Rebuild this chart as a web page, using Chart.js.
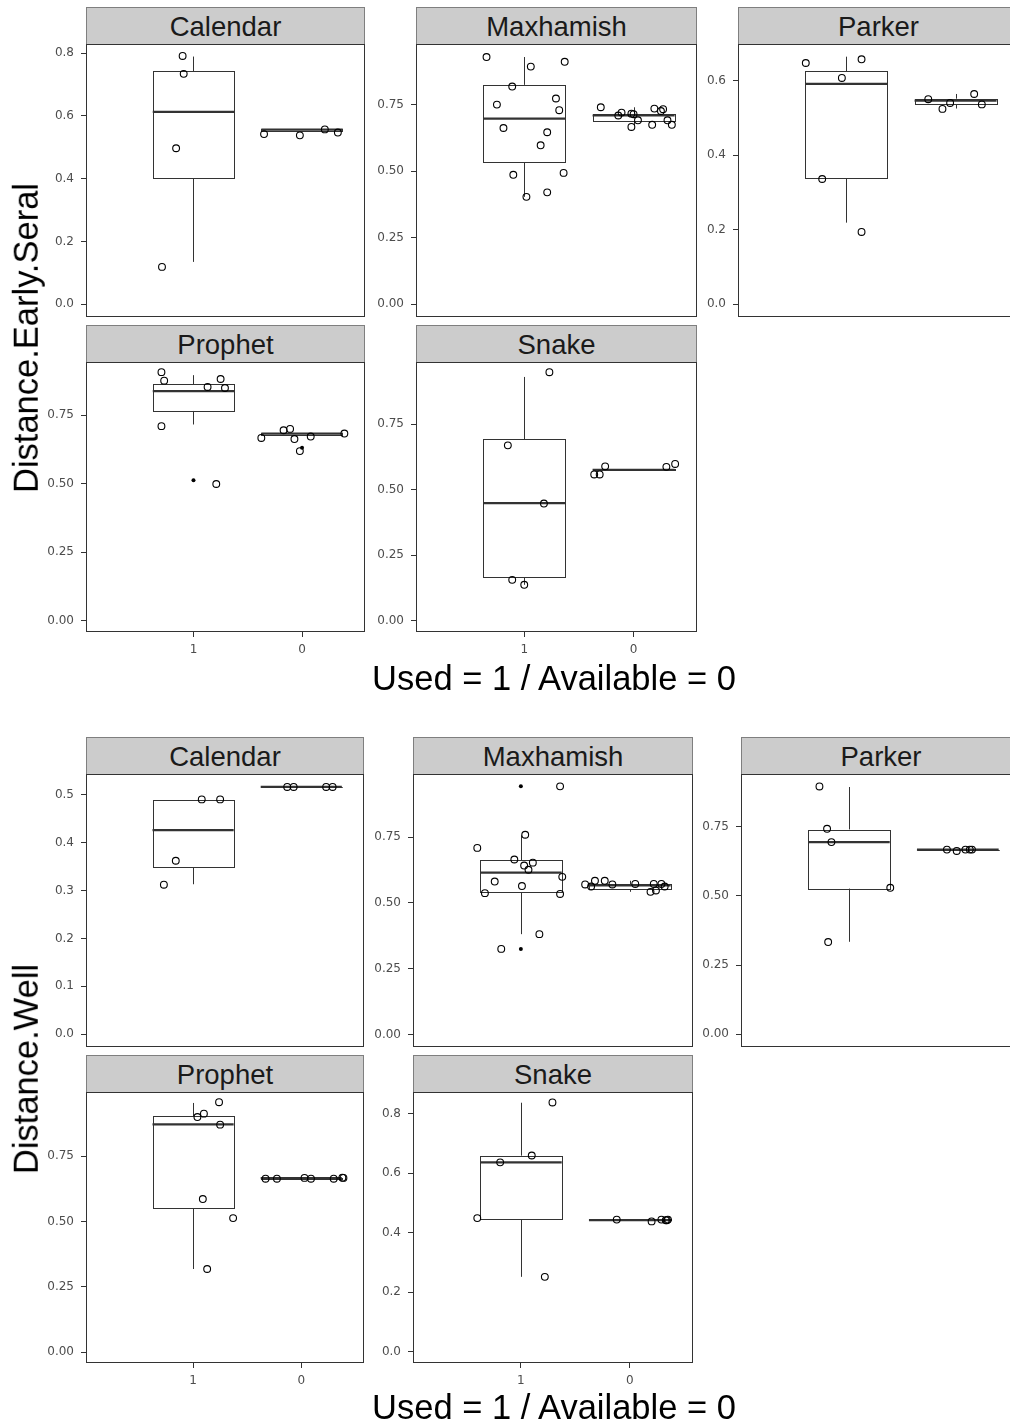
<!DOCTYPE html>
<html>
<head>
<meta charset="utf-8">
<title>Distance boxplots</title>
<script src="https://cdn.jsdelivr.net/npm/chart.js@4.4.1/dist/chart.umd.min.js"></script>
<style>
    html, body { margin: 0; padding: 0; background: #fff; }
    #page { position: relative; width: 1010px; height: 1424px; overflow: hidden; font-family: Arial, "Liberation Sans", sans-serif; }
    .strip { position: absolute; box-sizing: border-box; background: #cccccc; border: 1px solid #7f7f7f; border-bottom: none;
             text-align: center; font-size: 27.5px; line-height: 37px; color: #1a1a1a; }
    .panel { position: absolute; }
    .title { position: absolute; font-size: 34.5px; line-height: 1; white-space: nowrap; color: #000; }
    .xtitle { transform: translate(-50%, -50%); }
    .ytitle { transform: translate(-50%, -50%) rotate(-90deg); }
</style>
</head>
<body>
<div id="page"></div>
<script>
// x categories and facets
const groups = ['1', '0'];
const facets = ['Calendar', 'Maxhamish', 'Parker', 'Prophet', 'Snake'];

// ---- Distance.Early.Seral ----
// box stats: [lower whisker, q1, median, q3, upper whisker] for Used (1) and Available (0)
// points: [jittered x, y]
const esCalendarBox = [[0.135, 0.401, 0.613, 0.742, 0.789], [0.552, 0.552, 0.556, 0.558, 0.558]];
const esCalendarUsed = [[0.90, 0.791], [0.91, 0.734], [0.84, 0.497], [0.71, 0.119]];
const esCalendarAvail = [[1.65, 0.542], [1.98, 0.538], [2.21, 0.557], [2.33, 0.547]];
const esCalendarOut = [];

const esMaxhamishBox = [[0.404, 0.534, 0.698, 0.825, 0.930], [0.672, 0.688, 0.710, 0.716, 0.741]];
const esMaxhamishUsed = [[0.655, 0.930], [1.06, 0.894], [1.37, 0.912], [0.89, 0.819], [0.75, 0.751], [1.29, 0.774], [1.32, 0.730],
    [0.81, 0.663], [1.21, 0.647], [1.15, 0.598], [0.90, 0.487], [1.36, 0.494], [1.21, 0.421], [1.02, 0.404]];
const esMaxhamishAvail = [[1.70, 0.741], [1.86, 0.710], [1.89, 0.721], [1.98, 0.717], [2.00, 0.715], [1.98, 0.667], [2.04, 0.692],
    [2.17, 0.675], [2.19, 0.736], [2.25, 0.727], [2.27, 0.734], [2.31, 0.692], [2.35, 0.675]];
const esMaxhamishOut = [];

const esParkerBox = [[0.219, 0.338, 0.591, 0.625, 0.664], [0.525, 0.537, 0.546, 0.551, 0.564]];
const esParkerUsed = [[0.63, 0.647], [1.14, 0.657], [0.96, 0.607], [0.78, 0.336], [1.14, 0.194]];
const esParkerAvail = [[1.75, 0.550], [1.88, 0.524], [1.95, 0.540], [2.17, 0.564], [2.24, 0.536]];
const esParkerOut = [];

const esProphetBox = [[0.716, 0.766, 0.838, 0.863, 0.896], [0.680, 0.680, 0.683, 0.686, 0.686]];
const esProphetUsed = [[0.705, 0.907], [0.73, 0.876], [1.13, 0.853], [1.25, 0.882], [1.29, 0.849], [0.705, 0.710], [1.21, 0.499]];
const esProphetAvail = [[1.625, 0.667], [1.83, 0.695], [1.89, 0.700], [1.93, 0.663], [1.98, 0.619], [2.08, 0.672], [2.39, 0.683]];
const esProphetOut = [[1.0, 0.513], [2.0, 0.631]];

const esSnakeBox = [[0.137, 0.164, 0.449, 0.692, 0.930], [0.574, 0.574, 0.576, 0.577, 0.577]];
const esSnakeUsed = [[1.23, 0.948], [0.85, 0.669], [1.18, 0.447], [0.89, 0.156], [1.0, 0.137]];
const esSnakeAvail = [[1.64, 0.558], [1.69, 0.558], [1.74, 0.589], [2.30, 0.587], [2.38, 0.598]];
const esSnakeOut = [];

const esTicks = [[0, 0.2, 0.4, 0.6, 0.8], [0, 0.25, 0.5, 0.75], [0, 0.2, 0.4, 0.6], [0, 0.25, 0.5, 0.75], [0, 0.25, 0.5, 0.75]];
const esYRange = [[-0.0405, 0.829], [-0.048, 0.979], [-0.034, 0.698], [-0.041, 0.944], [-0.043, 0.987]];

// ---- Distance.Well ----
const wellCalendarBox = [[0.313, 0.348, 0.426, 0.488, 0.488], [0.516, 0.516, 0.516, 0.516, 0.516]];
const wellCalendarUsed = [[1.08, 0.490], [1.25, 0.490], [0.84, 0.362], [0.73, 0.312]];
const wellCalendarAvail = [[1.87, 0.516], [1.93, 0.516], [2.23, 0.516], [2.29, 0.516]];
const wellCalendarOut = [];

const wellMaxhamishBox = [[0.381, 0.539, 0.615, 0.662, 0.757], [0.542, 0.552, 0.566, 0.570, 0.584]];
const wellMaxhamishUsed = [[1.36, 0.943], [1.04, 0.759], [0.60, 0.709], [0.94, 0.665], [1.11, 0.653], [1.03, 0.642], [1.07, 0.626],
    [1.38, 0.599], [0.76, 0.581], [1.01, 0.564], [0.67, 0.537], [1.36, 0.534], [1.17, 0.381], [0.82, 0.325]];
const wellMaxhamishAvail = [[1.59, 0.570], [1.645, 0.562], [1.68, 0.584], [1.77, 0.584], [1.84, 0.570], [2.05, 0.572],
    [2.19, 0.542], [2.22, 0.572], [2.24, 0.547], [2.29, 0.572], [2.32, 0.562]];
const wellMaxhamishOut = [[1.0, 0.943], [1.0, 0.325]];

const wellParkerBox = [[0.334, 0.527, 0.694, 0.739, 0.893], [0.667, 0.667, 0.667, 0.667, 0.667]];
const wellParkerUsed = [[0.73, 0.895], [0.80, 0.742], [0.84, 0.694], [1.38, 0.529], [0.81, 0.333]];
const wellParkerAvail = [[1.90, 0.667], [1.99, 0.662], [2.07, 0.667], [2.11, 0.667], [2.13, 0.667]];
const wellParkerOut = [];

const wellProphetBox = [[0.318, 0.549, 0.872, 0.903, 0.954], [0.665, 0.665, 0.666, 0.667, 0.667]];
const wellProphetUsed = [[1.24, 0.957], [1.10, 0.913], [1.04, 0.900], [1.25, 0.871], [1.09, 0.586], [1.37, 0.513], [1.13, 0.318]];
const wellProphetAvail = [[1.67, 0.664], [1.775, 0.664], [2.03, 0.667], [2.09, 0.664], [2.30, 0.664], [2.38, 0.668], [2.39, 0.667]];
const wellProphetOut = [];

const wellSnakeBox = [[0.252, 0.446, 0.636, 0.658, 0.836], [0.440, 0.440, 0.442, 0.445, 0.445]];
const wellSnakeUsed = [[1.29, 0.837], [1.10, 0.659], [0.81, 0.636], [0.60, 0.449], [1.22, 0.252]];
const wellSnakeAvail = [[1.88, 0.444], [2.20, 0.438], [2.29, 0.444], [2.33, 0.442], [2.34, 0.442], [2.35, 0.444]];
const wellSnakeOut = [];

const wellTicks = [[0, 0.1, 0.2, 0.3, 0.4, 0.5], [0, 0.25, 0.5, 0.75], [0, 0.25, 0.5, 0.75], [0, 0.25, 0.5, 0.75], [0, 0.2, 0.4, 0.6, 0.8]];
const wellYRange = [[-0.0266, 0.543], [-0.048, 0.990], [-0.046, 0.940], [-0.042, 0.996], [-0.037, 0.872]];

// layout: plot area [left, top, width, height] in page pixels
const esRects = [[86, 44, 279, 273], [416, 44, 281, 273], [738, 44, 281, 273], [86, 362, 279, 270], [416, 362, 281, 270]];
const wellRects = [[86, 774, 278, 273], [413, 774, 280, 273], [741, 774, 280, 273], [86, 1092, 278, 271], [413, 1092, 280, 271]];

const X_MIN = 0.01, X_MAX = 2.58;
const BOX_HALF = 0.375;
const AXIS_W = 56, XAXIS_H = 30, STRIP_H = 37;
const LINE = '#333333';
const TICK_FONT = { family: 'DejaVu Sans', size: 12 };
const TICK_COLOR = '#4d4d4d';

const page = document.getElementById('page');

function addText(cls, text, x, y) {
    const d = document.createElement('div');
    d.className = 'title ' + cls;
    d.style.left = x + 'px';
    d.style.top = y + 'px';
    d.textContent = text;
    page.appendChild(d);
}

// box, whiskers and median drawn with the chart's scales, panel frame on top
function boxPlugin(stats) {
    return {
        id: 'boxes',
        beforeDatasetsDraw(chart) {
            const ctx = chart.ctx, xs = chart.scales.x, ys = chart.scales.y;
            ctx.save();
            ctx.strokeStyle = LINE;
            stats.forEach(function(s, i) {
                const c = i + 1;
                const x0 = xs.getPixelForValue(c - BOX_HALF);
                const x1 = xs.getPixelForValue(c + BOX_HALF);
                const xc = Math.round(xs.getPixelForValue(c)) + 0.5;
                const p = s.map(v => ys.getPixelForValue(v));
                ctx.lineWidth = 1;
                ctx.beginPath();
                ctx.moveTo(xc, p[3]); ctx.lineTo(xc, p[4]);
                ctx.moveTo(xc, p[1]); ctx.lineTo(xc, p[0]);
                ctx.stroke();
                ctx.fillStyle = '#fff';
                ctx.fillRect(x0, p[3], x1 - x0, p[1] - p[3]);
                ctx.strokeRect(Math.round(x0) + 0.5, Math.round(p[3]) + 0.5, Math.round(x1 - x0), Math.round(p[1] - p[3]));
                ctx.lineWidth = 2.2;
                ctx.beginPath();
                ctx.moveTo(x0, p[2]); ctx.lineTo(x1, p[2]);
                ctx.stroke();
            });
            ctx.restore();
        },
        afterDraw(chart) {
            const ctx = chart.ctx, a = chart.chartArea;
            ctx.save();
            ctx.strokeStyle = LINE;
            ctx.lineWidth = 1;
            ctx.strokeRect(a.left + 0.5, a.top + 0.5, a.right - a.left - 1, a.bottom - a.top - 1);
            ctx.restore();
        }
    };
}

function toPoints(arr) {
    return arr.map(p => ({ x: p[0], y: p[1] }));
}

function buildPanel(name, rect, box, used, avail, out, ticks, yRange, showX) {
    const [l, t, w, h] = rect;

    const strip = document.createElement('div');
    strip.className = 'strip';
    strip.style.left = l + 'px';
    strip.style.top = (t - STRIP_H) + 'px';
    strip.style.width = w + 'px';
    strip.style.height = STRIP_H + 'px';
    strip.textContent = name;
    page.appendChild(strip);

    const wrap = document.createElement('div');
    wrap.className = 'panel';
    wrap.style.left = (l - AXIS_W) + 'px';
    wrap.style.top = (t - 1) + 'px';
    const canvas = document.createElement('canvas');
    canvas.width = AXIS_W + w + 1;
    canvas.height = 1 + h + (showX ? XAXIS_H : 0);
    canvas.style.width = canvas.width + 'px';
    canvas.style.height = canvas.height + 'px';
    wrap.appendChild(canvas);
    page.appendChild(wrap);

    const decimals = ticks[1] === 0.25 ? 2 : 1;
    const hollow = { pointStyle: 'circle', pointRadius: 3.4, borderWidth: 1.1, borderColor: '#000', backgroundColor: 'rgba(0,0,0,0)' };

    new Chart(canvas, {
        type: 'scatter',
        data: {
            datasets: [
                Object.assign({ label: 'Used', data: toPoints(used) }, hollow),
                Object.assign({ label: 'Available', data: toPoints(avail) }, hollow),
                { label: 'Outlier', data: toPoints(out), pointStyle: 'circle', pointRadius: 2, borderWidth: 0,
                  backgroundColor: '#000', borderColor: '#000' }
            ]
        },
        options: {
            responsive: false,
            animation: false,
            devicePixelRatio: 1,
            layout: { autoPadding: false, padding: { top: 1, right: 1, left: 0, bottom: 0 } },
            plugins: { legend: { display: false }, tooltip: { enabled: false } },
            scales: {
                x: {
                    type: 'linear',
                    min: X_MIN,
                    max: X_MAX,
                    display: showX,
                    afterBuildTicks: function(scale) {
                        scale.ticks = [{ value: 1 }, { value: 2 }];
                    },
                    afterFit: function(scale) {
                        scale.height = showX ? XAXIS_H : 0;
                        scale.paddingLeft = 0;
                        scale.paddingRight = 0;
                    },
                    ticks: {
                        callback: function(value) { return groups[value - 1]; },
                        font: TICK_FONT, color: TICK_COLOR, padding: 6, maxRotation: 0, autoSkip: false
                    },
                    grid: { drawOnChartArea: false, drawTicks: true, tickLength: 5, color: LINE },
                    border: { display: false }
                },
                y: {
                    type: 'linear',
                    min: yRange[0],
                    max: yRange[1],
                    afterBuildTicks: function(scale) {
                        scale.ticks = ticks.map(v => ({ value: v }));
                    },
                    afterFit: function(scale) {
                        scale.width = AXIS_W;
                        scale.paddingTop = 0;
                        scale.paddingBottom = 0;
                    },
                    ticks: {
                        callback: function(value) { return value.toFixed(decimals); },
                        font: TICK_FONT, color: TICK_COLOR, padding: 7
                    },
                    grid: { drawOnChartArea: false, drawTicks: true, tickLength: 5, color: LINE },
                    border: { display: false }
                }
            }
        },
        plugins: [boxPlugin(box)]
    });
}

// Distance.Early.Seral figure
const esBoxes = [esCalendarBox, esMaxhamishBox, esParkerBox, esProphetBox, esSnakeBox];
const esUsed = [esCalendarUsed, esMaxhamishUsed, esParkerUsed, esProphetUsed, esSnakeUsed];
const esAvail = [esCalendarAvail, esMaxhamishAvail, esParkerAvail, esProphetAvail, esSnakeAvail];
const esOut = [esCalendarOut, esMaxhamishOut, esParkerOut, esProphetOut, esSnakeOut];
facets.forEach(function(f, i) {
    buildPanel(f, esRects[i], esBoxes[i], esUsed[i], esAvail[i], esOut[i], esTicks[i], esYRange[i], i >= 3);
});

// Distance.Well figure
const wellBoxes = [wellCalendarBox, wellMaxhamishBox, wellParkerBox, wellProphetBox, wellSnakeBox];
const wellUsed = [wellCalendarUsed, wellMaxhamishUsed, wellParkerUsed, wellProphetUsed, wellSnakeUsed];
const wellAvail = [wellCalendarAvail, wellMaxhamishAvail, wellParkerAvail, wellProphetAvail, wellSnakeAvail];
const wellOut = [wellCalendarOut, wellMaxhamishOut, wellParkerOut, wellProphetOut, wellSnakeOut];
facets.forEach(function(f, i) {
    buildPanel(f, wellRects[i], wellBoxes[i], wellUsed[i], wellAvail[i], wellOut[i], wellTicks[i], wellYRange[i], i >= 3);
});

// axis titles
addText('xtitle', 'Used = 1 / Available = 0', 554, 678);
addText('ytitle', 'Distance.Early.Seral', 25.5, 338);
addText('xtitle', 'Used = 1 / Available = 0', 554, 1407);
addText('ytitle', 'Distance.Well', 25.5, 1069);
</script>
</body>
</html>
